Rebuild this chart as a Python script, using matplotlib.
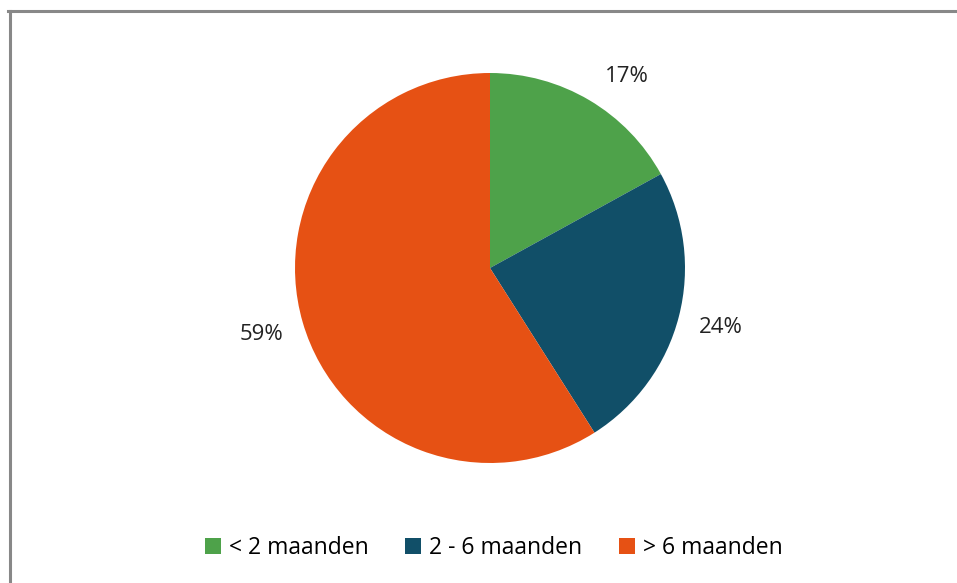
import numpy as np
import matplotlib.pyplot as plt
from matplotlib.lines import Line2D
from matplotlib.patches import Patch

plt.rcParams['font.family'] = ['Open Sans', 'DejaVu Sans']

categories = ['< 2 maanden', '2 - 6 maanden', '> 6 maanden']
values = [17, 24, 59]
colors = ['#4EA24A', '#114F68', '#E65114']

fig = plt.figure(figsize=(9.57, 5.83), dpi=100)

# axes sized so the pie sits where the reference has it
cx, cy, r = 490 / 957, 1 - 268 / 583, 195
w, h = 2 * r / 957, 2 * r / 583
ax = fig.add_axes([cx - w / 2, cy - h / 2, w, h])

wedges, texts, autotexts = ax.pie(
    values, colors=colors, startangle=90, counterclock=False,
    autopct=lambda p: f"{p:.0f}%", pctdistance=1.22,
    wedgeprops=dict(linewidth=0),
    textprops=dict(fontsize=16, color='#222222'),
)
# Excel zet het eerste label iets meer naar rechts
wd = wedges[0]
ang = np.radians((wd.theta1 + wd.theta2) / 2 - 5)
autotexts[0].set_position((1.21 * np.cos(ang), 1.21 * np.sin(ang)))

ax.set_xlim(-1, 1)
ax.set_ylim(-1, 1)
ax.set_aspect('equal')

# legende onderaan
handles = [Patch(facecolor=c, edgecolor='none') for c in colors]
fig.legend(handles, categories, loc='center', bbox_to_anchor=(0.516, 1 - 548 / 583),
           ncol=3, frameon=False, fontsize=16.5, handlelength=0.7, handleheight=0.7,
           handletextpad=0.35, columnspacing=1.6)

# grijze rand boven en links
fig.add_artist(Line2D([8 / 957, 1], [1 - 11 / 583, 1 - 11 / 583], color='#888888', linewidth=2.2))
fig.add_artist(Line2D([9.5 / 957, 9.5 / 957], [0, 1 - 11 / 583], color='#888888', linewidth=2.2))

fig.savefig('out.png', dpi=100, facecolor='white')
